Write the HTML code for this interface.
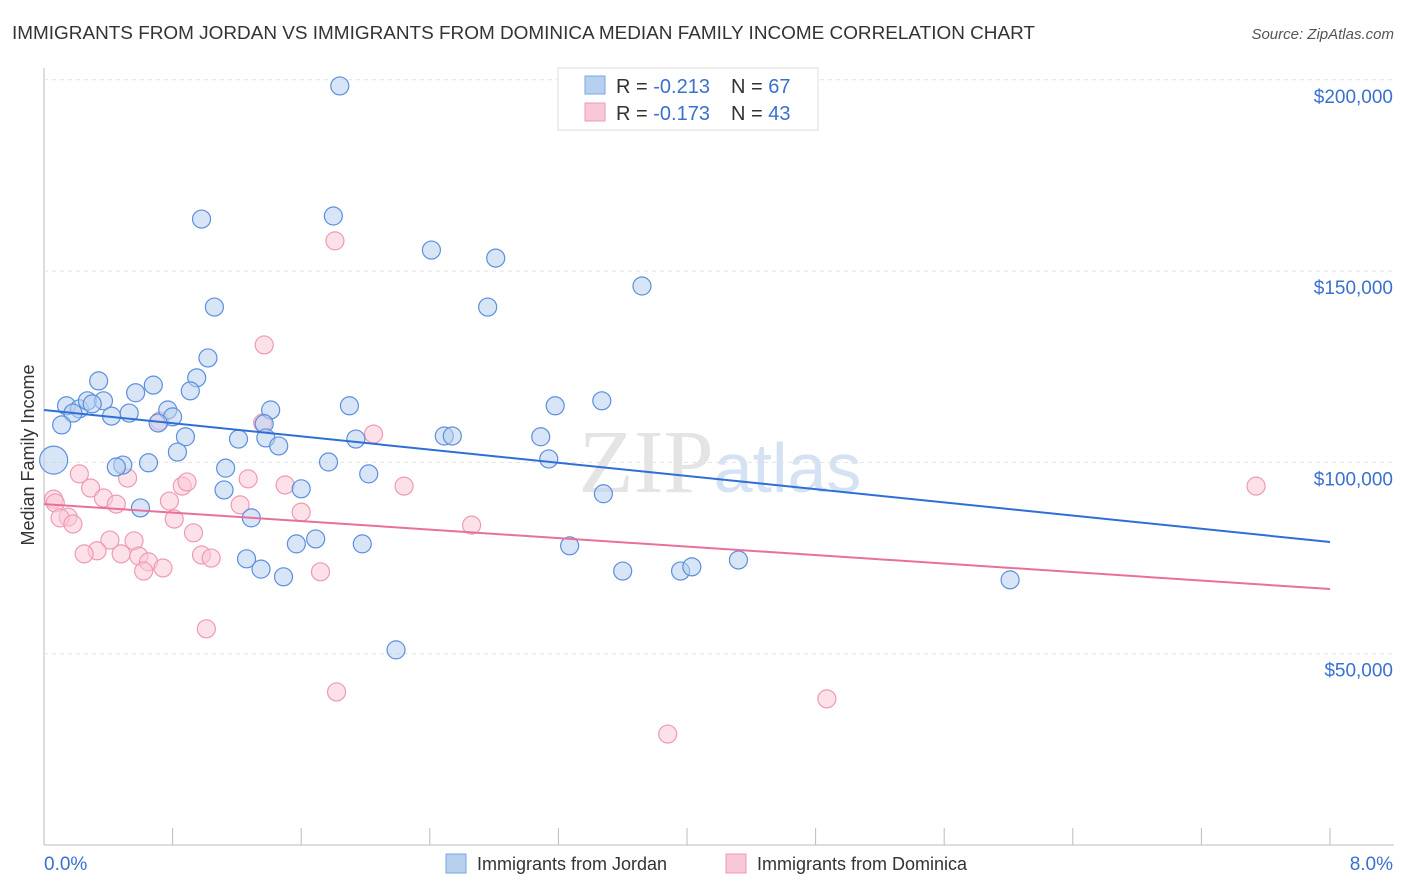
<!DOCTYPE html>
<html><head><meta charset="utf-8">
<style>
body{margin:0;background:#fff;font-family:"Liberation Sans",sans-serif;}
#wrap{position:relative;width:1406px;height:892px;overflow:hidden}
</style></head>
<body><div id="wrap">
<svg id="svg" width="1406" height="892">
<text x="12" y="39" font-size="18" fill="#333" textLength="1023" lengthAdjust="spacingAndGlyphs">IMMIGRANTS FROM JORDAN VS IMMIGRANTS FROM DOMINICA MEDIAN FAMILY INCOME CORRELATION CHART</text>
<text x="1394" y="39" font-size="15" fill="#555" font-style="italic" text-anchor="end">Source: ZipAtlas.com</text>
<text x="720" y="492" font-size="90" fill="#e4e4e4" text-anchor="middle" font-family="Liberation Serif">ZIP<tspan fill="#d4e2f4" font-family="Liberation Sans" font-size="70">atlas</tspan></text>
<text transform="translate(34,455) rotate(-90)" font-size="18" fill="#333" text-anchor="middle">Median Family Income</text>
<g id="grid"></g><g id="pts"></g><g id="lines"></g>
<g>
<rect x="558" y="68" width="260" height="62" fill="#fff" stroke="#ddd"/>
<rect x="585" y="76" width="20" height="18" fill="#b8d0f0" stroke="#7aa6e0"/>
<rect x="585" y="103" width="20" height="18" fill="#f9c8d6" stroke="#ee9ab4"/>
<text x="616" y="93" font-size="20" fill="#333">R = <tspan fill="#3a70d0">-0.213</tspan></text>
<text x="731" y="93" font-size="20" fill="#333">N = <tspan fill="#3a70d0">67</tspan></text>
<text x="616" y="120" font-size="20" fill="#333">R = <tspan fill="#3a70d0">-0.173</tspan></text>
<text x="731" y="120" font-size="20" fill="#333">N = <tspan fill="#3a70d0">43</tspan></text>
</g>
<g>
<rect x="446" y="854" width="20" height="19" fill="#b8d0f0" stroke="#7aa6e0"/>
<text x="477" y="870" font-size="18" fill="#333">Immigrants from Jordan</text>
<rect x="726" y="854" width="20" height="19" fill="#f9c8d6" stroke="#ee9ab4"/>
<text x="757" y="870" font-size="18" fill="#333">Immigrants from Dominica</text>
</g>
<text x="44" y="870" font-size="19" fill="#3a70d0">0.0%</text>
<text x="1393" y="870" font-size="19" fill="#3a70d0" text-anchor="end">8.0%</text>
</svg></div>
<script>
const yTicks=[50,100,150,200];
const yTickLabels=["$50,000","$100,000","$150,000","$200,000"];
const xTicks=[0,0.8,1.6,2.4,3.2,4.0,4.8,5.6,6.4,7.2,8.0];
const jordanX=[1.84,0.98,1.80,2.41,2.81,3.72,1.06,2.76,1.02,0.34,0.95,0.68,0.57,0.91,0.14,0.22,0.27,0.37,0.30,1.90,1.41,3.18,3.47,0.18,0.42,0.53,0.77,0.80,0.71,0.11,1.37,0.88,1.21,1.38,1.94,2.49,2.54,3.09,1.46,0.83,0.06,3.14,1.77,0.49,0.65,0.45,1.13,2.02,1.60,3.48,1.12,0.60,1.29,1.69,1.57,1.98,3.27,1.26,4.32,1.35,1.49,3.60,3.96,4.03,6.01,2.19];
const jordanY=[198.4,163.6,164.4,155.5,153.4,146.1,140.6,140.6,127.3,121.3,122.1,120.2,118.2,118.7,114.8,114.0,116.1,116.1,115.3,114.8,113.7,114.8,116.1,112.9,112.1,112.9,113.7,111.9,110.3,109.8,110.1,106.7,106.1,106.4,106.1,106.9,106.9,106.7,104.3,102.7,100.6,100.9,100.1,99.3,99.9,98.8,98.5,97.0,93.1,91.8,92.8,88.1,85.5,80.0,78.7,78.7,78.2,74.8,74.5,72.1,70.1,71.6,71.6,72.7,69.3,51.0];
const dominicaX=[1.81,1.37,0.72,1.36,2.05,0.22,0.52,1.27,0.29,0.86,0.89,1.50,2.24,7.54,0.06,0.37,0.45,0.78,1.22,0.07,1.60,0.15,0.10,0.81,0.18,2.66,0.93,0.41,0.56,0.33,0.25,0.48,0.59,0.98,1.04,0.65,0.62,0.74,1.72,1.01,1.82,4.87,3.88];
const dominicaY=[157.9,130.7,110.8,110.3,107.4,97.0,95.9,95.7,93.3,93.8,94.9,94.1,93.8,93.8,90.4,90.7,89.1,89.9,88.9,89.4,87.0,85.7,85.5,85.2,83.9,83.6,81.6,79.7,79.5,76.9,76.1,76.1,75.5,75.8,75.0,74.0,71.6,72.4,71.4,56.5,40.0,38.2,29.0];
const jordanTrend=[113.7,79.2];
const dominicaTrend=[89.1,66.9];
const NS="http://www.w3.org/2000/svg";
const X=v=>44+v/8*1286;
const Y=v=>845-v*3.826;
function mk(t,a,p){const e=document.createElementNS(NS,t);for(const k in a)e.setAttribute(k,a[k]);p.appendChild(e);return e;}
const grid=document.getElementById('grid');
const ax=mk('line',{x1:44,y1:68,x2:44,y2:845,stroke:'#bbb'},grid);


const bx=mk('line',{x1:44,y1:845,x2:1394,y2:845,stroke:'#bbb'},grid);


yTicks.forEach((t,i)=>{
 const g=mk('line',{x1:44,x2:1394,y1:Y(t),y2:Y(t),stroke:'#e2e2e2','stroke-dasharray':'4,4'},grid);
 
 
 const tx=mk('text',{x:1393,y:Y(t)+23,'font-size':19,fill:'#3a70d0','text-anchor':'end'},grid);
 tx.textContent=yTickLabels[i];
 
 
});
xTicks.forEach(t=>{
 const l=mk('line',{x1:X(t),x2:X(t),y1:828,y2:845,stroke:'#bbb'},grid);
 
 
});
const pts=document.getElementById('pts');
function series(xs,ys,fill,stroke,name){xs.forEach((x,i)=>{
 const r=(name==='jordan-point'&&i===40)?14:9;
 const c=mk('circle',{cx:X(x),cy:Y(ys[i]),r:r,fill:fill,'fill-opacity':0.55,stroke:stroke,'stroke-width':1.2},pts);
 
 
});}
series(dominicaX,dominicaY,'#f9c8d6','#ee9ab4','dominica-point');
series(jordanX,jordanY,'#b8d0f0','#5b8fdc','jordan-point');
const lines=document.getElementById('lines');
const l1=mk('line',{x1:X(0),y1:Y(jordanTrend[0]),x2:X(8),y2:Y(jordanTrend[1]),stroke:'#2d6fd6','stroke-width':2},lines);


const l2=mk('line',{x1:X(0),y1:Y(dominicaTrend[0]),x2:X(8),y2:Y(dominicaTrend[1]),stroke:'#e8709a','stroke-width':2},lines);


</script>
</body></html>
